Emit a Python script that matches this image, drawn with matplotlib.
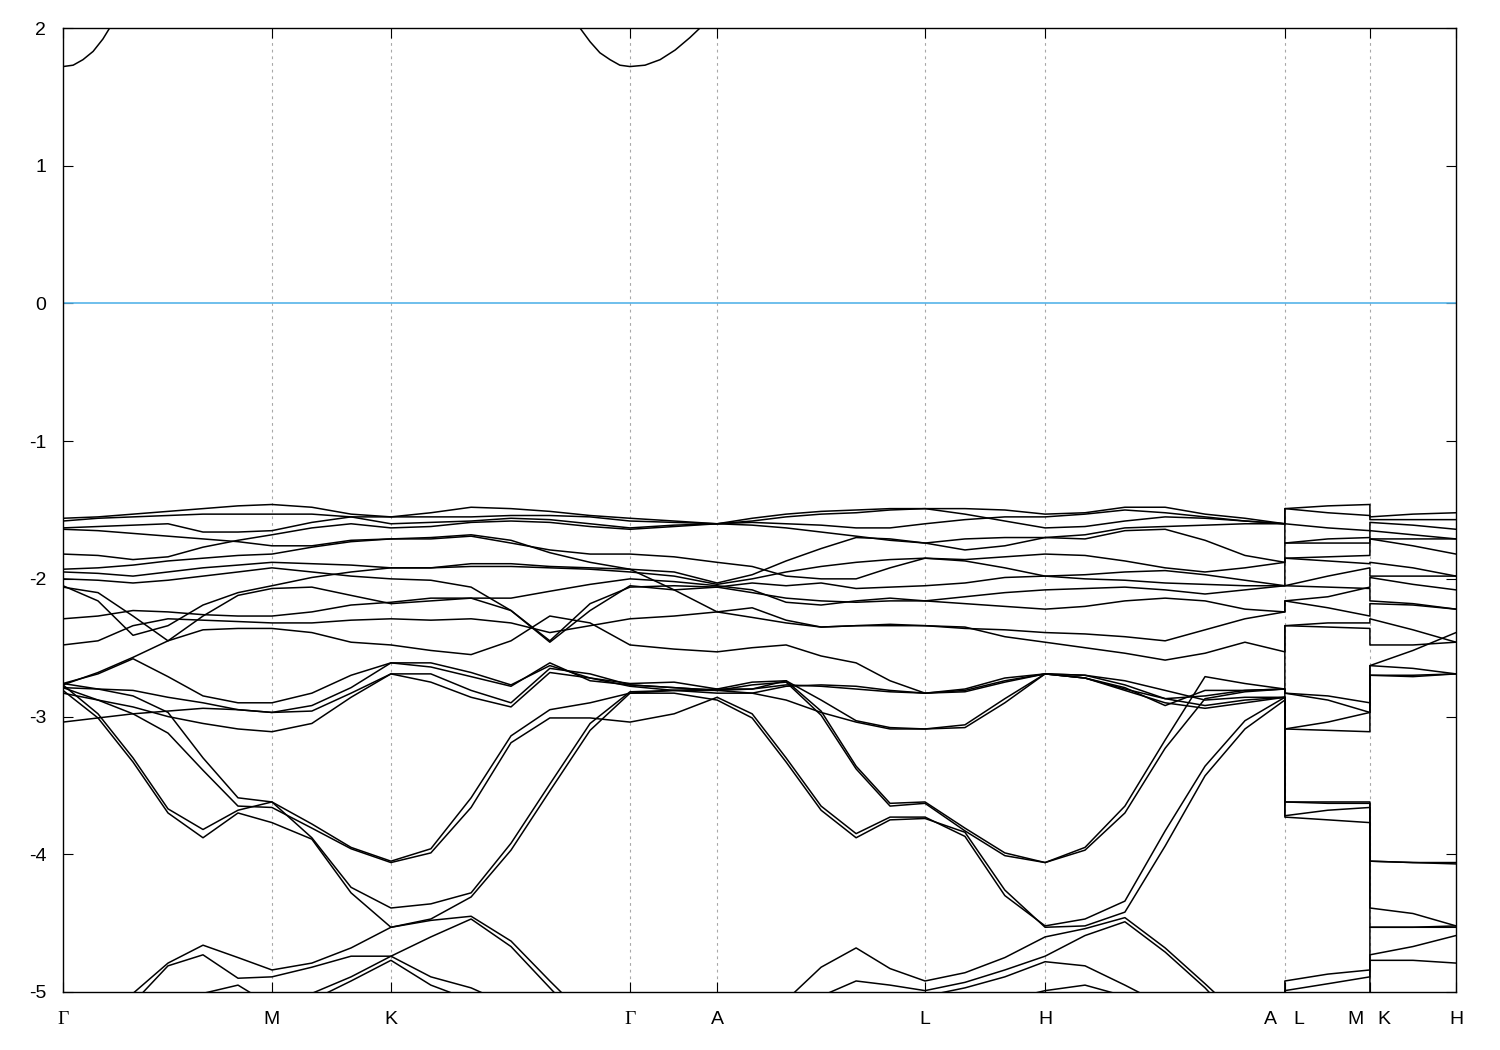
import matplotlib
matplotlib.use("Agg")
import matplotlib.pyplot as plt

plt.rcParams["font.family"] = ["Liberation Sans", "DejaVu Sans"]
plt.rcParams["axes.unicode_minus"] = False

# path coordinate of every sampled k-point (A|L and M|K are listed twice: bands jump there)
kpath = [0.000, 0.100, 0.200, 0.300, 0.400, 0.500, 0.597,
         0.711, 0.823, 0.937,
         1.051, 1.166, 1.280, 1.391, 1.506, 1.620,
         1.746, 1.869,
         1.969, 2.066, 2.166, 2.266, 2.363, 2.463,
         2.577, 2.691, 2.806,
         2.920, 3.034, 3.149, 3.263, 3.377, 3.491,
         3.491, 3.614, 3.734,
         3.734, 3.857, 3.980]

sym_pos = [0.000, 0.597, 0.937, 1.620, 1.869, 2.463, 2.806, 3.491, 3.734, 3.980]
sym_lab = ["Γ", "M", "K", "Γ", "A", "L", "H", "A|L", "M|K", "H"]
yticks = [-5, -4, -3, -2, -1, 0, 1, 2]

# energies (eV), one list per band
band01 = [-1.56, -1.55, -1.53, -1.51, -1.49, -1.47, -1.46,
          -1.48, -1.53, -1.55,
          -1.52, -1.48, -1.49, -1.51, -1.54, -1.56,
          -1.58, -1.60,
          -1.56, -1.53, -1.51, -1.50, -1.49, -1.49,
          -1.49, -1.50, -1.53,
          -1.52, -1.48, -1.48, -1.53, -1.56, -1.60,
          -1.49, -1.47, -1.46,
          -1.55, -1.53, -1.52]
band02 = [-1.58, -1.56, -1.55, -1.54, -1.53, -1.53, -1.53,
          -1.53, -1.55, -1.60,
          -1.59, -1.58, -1.56, -1.57, -1.60, -1.63,
          -1.61, -1.60,
          -1.59, -1.60, -1.61, -1.63, -1.63, -1.60,
          -1.57, -1.55, -1.55,
          -1.53, -1.50, -1.52, -1.55, -1.58, -1.60,
          -1.49, -1.52, -1.54,
          -1.57, -1.57, -1.57]
band03 = [-1.63, -1.62, -1.61, -1.60, -1.66, -1.66, -1.65,
          -1.59, -1.55, -1.55,
          -1.55, -1.55, -1.54, -1.54, -1.55, -1.58,
          -1.59, -1.60,
          -1.58, -1.55, -1.53, -1.52, -1.50, -1.49,
          -1.53, -1.58, -1.63,
          -1.62, -1.58, -1.55, -1.56, -1.58, -1.60,
          -1.60, -1.63, -1.65,
          -1.59, -1.61, -1.64]
band04 = [-1.64, -1.65, -1.67, -1.69, -1.71, -1.73, -1.76,
          -1.76, -1.72, -1.71,
          -1.71, -1.69, -1.74, -1.79, -1.82, -1.82,
          -1.84, -1.88,
          -1.91, -1.98, -2.00, -2.00, -1.92, -1.85,
          -1.87, -1.92, -1.98,
          -1.97, -1.95, -1.94, -1.97, -2.01, -2.05,
          -1.85, -1.87, -1.89,
          -1.88, -1.92, -1.98]
band05 = [-1.82, -1.83, -1.86, -1.84, -1.77, -1.72, -1.68,
          -1.63, -1.60, -1.63,
          -1.62, -1.59, -1.58, -1.59, -1.62, -1.64,
          -1.62, -1.60,
          -1.61, -1.63, -1.66, -1.69, -1.72, -1.74,
          -1.79, -1.76, -1.70,
          -1.71, -1.65, -1.64, -1.72, -1.83, -1.88,
          -1.74, -1.74, -1.74,
          -1.71, -1.71, -1.71]
band06 = [-1.93, -1.92, -1.90, -1.87, -1.85, -1.83, -1.82,
          -1.77, -1.73, -1.71,
          -1.70, -1.68, -1.72, -1.81, -1.88, -1.93,
          -1.95, -2.03,
          -1.97, -1.87, -1.78, -1.70, -1.71, -1.74,
          -1.71, -1.70, -1.70,
          -1.68, -1.63, -1.62, -1.61, -1.60, -1.60,
          -1.74, -1.71, -1.70,
          -1.65, -1.68, -1.71]
band07 = [-1.95, -1.96, -1.98, -1.95, -1.92, -1.90, -1.88,
          -1.89, -1.90, -1.92,
          -1.92, -1.91, -1.91, -1.92, -1.93, -1.95,
          -1.98, -2.04,
          -2.00, -1.95, -1.91, -1.88, -1.86, -1.85,
          -1.86, -1.84, -1.82,
          -1.83, -1.87, -1.92, -1.95, -1.92, -1.88,
          -1.85, -1.84, -1.83,
          -1.71, -1.76, -1.82]
band08 = [-2.00, -2.01, -2.03, -2.01, -1.98, -1.95, -1.92,
          -1.95, -1.98, -2.00,
          -2.01, -2.06, -2.23, -2.45, -2.18, -2.06,
          -2.05, -2.06,
          -2.03, -2.05, -2.03, -2.07, -2.06, -2.05,
          -2.03, -1.99, -1.98,
          -2.00, -2.01, -2.03, -2.04, -2.05, -2.05,
          -2.05, -1.98, -1.92,
          -1.98, -1.98, -1.98]
band09 = [-2.05, -2.16, -2.41, -2.34, -2.19, -2.10, -2.05,
          -1.99, -1.95, -1.92,
          -1.92, -1.89, -1.89, -1.91, -1.92, -1.93,
          -2.08, -2.24,
          -2.28, -2.32, -2.35, -2.34, -2.33, -2.34,
          -2.35, -2.42, -2.46,
          -2.50, -2.54, -2.59, -2.54, -2.46, -2.53,
          -2.34, -2.32, -2.32,
          -2.29, -2.37, -2.46]
band10 = [-2.06, -2.10, -2.27, -2.45, -2.27, -2.12, -2.07,
          -2.06, -2.12, -2.18,
          -2.16, -2.14, -2.23, -2.46, -2.23, -2.05,
          -2.08, -2.06,
          -2.10, -2.14, -2.16, -2.17, -2.16, -2.16,
          -2.18, -2.20, -2.22,
          -2.20, -2.16, -2.14, -2.16, -2.22, -2.24,
          -2.16, -2.13, -2.06,
          -1.99, -2.04, -2.08]
band11 = [-2.29, -2.27, -2.23, -2.24, -2.26, -2.27, -2.27,
          -2.24, -2.19, -2.17,
          -2.14, -2.14, -2.14, -2.09, -2.04, -2.00,
          -2.02, -2.05,
          -2.08, -2.17, -2.19, -2.16, -2.14, -2.16,
          -2.13, -2.10, -2.08,
          -2.07, -2.06, -2.08, -2.11, -2.08, -2.05,
          -2.05, -2.06, -2.07,
          -2.16, -2.18, -2.22]
band12 = [-2.48, -2.45, -2.34, -2.29, -2.30, -2.31, -2.32,
          -2.32, -2.30, -2.29,
          -2.30, -2.29, -2.32, -2.39, -2.34, -2.29,
          -2.27, -2.24,
          -2.21, -2.30, -2.35, -2.34, -2.34, -2.34,
          -2.36, -2.37, -2.39,
          -2.40, -2.42, -2.45, -2.37, -2.29, -2.24,
          -2.16, -2.21, -2.27,
          -2.18, -2.19, -2.22]
band13 = [-2.77, -2.68, -2.57, -2.45, -2.37, -2.36, -2.36,
          -2.39, -2.46, -2.48,
          -2.52, -2.55, -2.45, -2.27, -2.32, -2.48,
          -2.51, -2.53,
          -2.50, -2.48, -2.56, -2.61, -2.74, -2.83,
          -2.81, -2.74, -2.69,
          -2.72, -2.80, -2.87, -2.85, -2.81, -2.80,
          -2.34, -2.35, -2.36,
          -2.48, -2.48, -2.46]
band14 = [-3.04, -3.01, -2.98, -2.96, -2.94, -2.95, -2.97,
          -2.96, -2.83, -2.69,
          -2.75, -2.86, -2.93, -2.68, -2.72, -2.78,
          -2.81, -2.83,
          -2.83, -2.78, -2.77, -2.78, -2.81, -2.83,
          -2.80, -2.72, -2.69,
          -2.72, -2.79, -2.92, -2.81, -2.81, -2.80,
          -2.83, -2.85, -2.90,
          -2.63, -2.52, -2.39]
band15 = [-2.79, -2.80, -2.81, -2.86, -2.90, -2.95, -2.97,
          -2.92, -2.79, -2.61,
          -2.64, -2.71, -2.78, -2.61, -2.74, -2.77,
          -2.79, -2.81,
          -2.80, -2.77, -2.78, -2.80, -2.82, -2.83,
          -2.82, -2.75, -2.69,
          -2.70, -2.74, -2.81, -2.88, -2.86, -2.86,
          -3.09, -3.10, -3.11,
          -2.70, -2.71, -2.69]
band16 = [-2.76, -2.69, -2.58, -2.71, -2.85, -2.90, -2.90,
          -2.83, -2.70, -2.61,
          -2.61, -2.68, -2.77, -2.63, -2.72, -2.76,
          -2.75, -2.80,
          -2.80, -2.74, -2.88, -3.03, -3.08, -3.09,
          -3.06, -2.87, -2.69,
          -2.70, -2.77, -2.87, -2.92, -2.88, -2.86,
          -3.62, -3.62, -3.62,
          -4.05, -4.06, -4.06]
band17 = [-2.83, -2.88, -2.93, -3.00, -3.05, -3.09, -3.11,
          -3.05, -2.86, -2.69,
          -2.69, -2.81, -2.90, -2.65, -2.69, -2.77,
          -2.79, -2.81,
          -2.83, -2.88, -2.97, -3.04, -3.09, -3.09,
          -3.08, -2.90, -2.69,
          -2.72, -2.81, -2.90, -2.94, -2.90, -2.86,
          -3.62, -3.63, -3.63,
          -4.05, -4.06, -4.07]
band18 = [-2.76, -2.80, -2.85, -2.97, -3.30, -3.59, -3.62,
          -3.88, -4.24, -4.39,
          -4.36, -4.28, -3.92, -3.49, -3.05, -2.82,
          -2.81, -2.80,
          -2.75, -2.74, -2.96, -3.36, -3.63, -3.62,
          -3.81, -3.99, -4.06,
          -3.95, -3.65, -3.17, -2.71, -2.76, -2.80,
          -2.83, -2.88, -2.97,
          -2.63, -2.65, -2.69]
band19 = [-2.77, -2.98, -3.30, -3.67, -3.82, -3.68, -3.62,
          -3.78, -3.95, -4.05,
          -3.96, -3.59, -3.14, -2.95, -2.90, -2.83,
          -2.81, -2.81,
          -2.77, -2.75, -2.99, -3.38, -3.65, -3.63,
          -3.83, -4.01, -4.06,
          -3.97, -3.70, -3.23, -2.87, -2.82, -2.80,
          -3.09, -3.04, -2.97,
          -2.70, -2.70, -2.69]
band20 = [-2.79, -2.88, -2.98, -3.12, -3.39, -3.65, -3.66,
          -3.81, -3.96, -4.06,
          -3.99, -3.66, -3.19, -3.01, -3.01, -3.04,
          -2.98, -2.86,
          -2.98, -3.30, -3.65, -3.85, -3.73, -3.73,
          -3.87, -4.30, -4.52,
          -4.47, -4.34, -3.83, -3.36, -3.03, -2.86,
          -3.72, -3.68, -3.66,
          -4.39, -4.43, -4.52]
band21 = [-2.81, -3.01, -3.33, -3.70, -3.88, -3.70, -3.77,
          -3.89, -4.28, -4.53,
          -4.47, -4.31, -3.97, -3.54, -3.10, -2.83,
          -2.83, -2.88,
          -3.01, -3.33, -3.68, -3.88, -3.75, -3.74,
          -3.84, -4.26, -4.53,
          -4.52, -4.42, -3.94, -3.43, -3.09, -2.88,
          -3.73, -3.75, -3.77,
          -4.53, -4.53, -4.53]
band22 = [-5.50, -5.28, -5.01, -4.79, -4.66, -4.75, -4.84,
          -4.79, -4.68, -4.53,
          -4.48, -4.45, -4.63, -4.92, -5.21, -5.50,
          -5.50, -5.50,
          -5.28, -5.06, -4.82, -4.68, -4.83, -4.92,
          -4.86, -4.75, -4.60,
          -4.54, -4.46, -4.68, -4.94, -5.21, -5.50,
          -4.92, -4.87, -4.84,
          -4.53, -4.53, -4.52]
band23 = [-5.57, -5.35, -5.08, -4.81, -4.73, -4.90, -4.89,
          -4.82, -4.74, -4.74,
          -4.60, -4.47, -4.67, -4.97, -5.28, -5.57,
          -5.57, -5.57,
          -5.39, -5.21, -5.03, -4.92, -4.95, -4.99,
          -4.93, -4.84, -4.74,
          -4.59, -4.49, -4.71, -4.97, -5.28, -5.57,
          -4.99, -4.94, -4.89,
          -4.73, -4.67, -4.59]
band24 = [-5.79, -5.64, -5.50, -5.35, -5.28, -5.21, -5.13,
          -5.01, -4.89, -4.74,
          -4.89, -4.97, -5.10, -5.28, -5.50, -5.72,
          -5.72, -5.72,
          -5.57, -5.42, -5.28, -5.13, -5.06, -5.03,
          -4.97, -4.89, -4.78,
          -4.81, -4.95, -5.10, -5.28, -5.50, -5.72,
          -5.03, -5.08, -5.13,
          -4.77, -4.77, -4.79]
band25 = [-5.86, -5.79, -5.64, -5.50, -5.42, -5.35, -5.28,
          -5.06, -4.92, -4.77,
          -4.95, -5.06, -5.21, -5.39, -5.61, -5.79,
          -5.79, -5.79,
          -5.72, -5.64, -5.57, -5.50, -5.42, -5.35,
          -5.17, -5.06, -4.99,
          -4.95, -5.03, -5.13, -5.35, -5.57, -5.79,
          -5.35, -5.32, -5.28,
          -5.06, -5.10, -5.13]
band26 = [-5.64, -5.50, -5.21, -5.06, -5.01, -4.95, -5.10,
          -5.21, -5.28, -5.35,
          -5.50, -5.64, -5.79, -5.93, -6.08, -6.15,
          -6.15, -5.86,
          -5.86, -5.79, -5.72, -5.64, -5.57, -5.50,
          -5.42, -5.32, -5.21,
          -5.28, -5.42, -5.57, -5.72, -5.79, -5.86,
          -5.50, -5.46, -5.42,
          -5.21, -5.21, -5.21]

# lowest conduction band, sampled more finely around its two minima at Gamma
cband_k = [0.000, 0.029, 0.057, 0.086, 0.114, 0.143, 0.200, 0.400, 0.597,
           0.937, 1.280, 1.391, 1.449, 1.477, 1.506, 1.534, 1.563, 1.591,
           1.620, 1.663, 1.706, 1.749, 1.791, 1.820, 1.869, 2.463, 2.806,
           3.491, 3.491, 3.734, 3.734, 3.980]
cband = [1.72, 1.73, 1.77, 1.83, 1.92, 2.04, 2.30, 2.75, 2.90,
         3.05, 2.50, 2.20, 2.12, 2.00, 1.90, 1.82, 1.77, 1.73,
         1.72, 1.73, 1.77, 1.84, 1.93, 2.00, 2.15, 2.60, 2.80,
         2.10, 2.60, 2.90, 3.05, 2.80]

bands = [band01, band02, band03, band04, band05, band06, band07, band08, band09,
         band10, band11, band12, band13, band14, band15, band16, band17, band18,
         band19, band20, band21, band22, band23, band24, band25, band26]

fig = plt.figure(figsize=(15, 10.5), dpi=100)
ax = fig.add_axes([63 / 1500, 58 / 1050, 1393 / 1500, 964 / 1050])

# dashed guides at the high-symmetry points, Fermi level in blue
for x in sym_pos[1:-1]:
    ax.axvline(x, color="#a8a8a8", lw=0.8, ls=(0, (2.5, 3.5)), zorder=1)
ax.axhline(0.0, color="#56b4e9", lw=1.2, zorder=2)

for b in bands:
    ax.plot(kpath, b, color="black", lw=1.1, zorder=3, solid_joinstyle="round")
ax.plot(cband_k, cband, color="black", lw=1.1, zorder=3, solid_joinstyle="round")

ax.set_xlim(sym_pos[0], sym_pos[-1])
ax.set_ylim(-5, 2)
ax.set_yticks(yticks)
ax.set_yticklabels([str(v) for v in yticks])

# labels like "A|L" sit either side of the jump, on minor ticks
major_lab, minor_pos, minor_lab = [], [], []
for x, lab in zip(sym_pos, sym_lab):
    if "|" in lab:
        left, right = lab.split("|")
        major_lab.append("")
        minor_pos += [x - 0.042, x + 0.040]
        minor_lab += [left, right]
    else:
        major_lab.append(lab)
ax.set_xticks(sym_pos)
ax.set_xticklabels(major_lab)
ax.set_xticks(minor_pos, minor=True)
ax.set_xticklabels(minor_lab, minor=True)

ax.tick_params(which="major", direction="in", length=7, width=0.8,
               top=True, right=True, labelsize=14)
ax.tick_params(which="minor", direction="in", length=0, top=True, labelsize=14)
ax.tick_params(axis="x", which="both", pad=14)
ax.tick_params(axis="y", pad=12)

for lbl in ax.get_xticklabels():
    if lbl.get_text() == "Γ":
        lbl.set_fontfamily("Liberation Serif")

for sp in ax.spines.values():
    sp.set_linewidth(1.0)

fig.savefig("out.png", dpi=100)
